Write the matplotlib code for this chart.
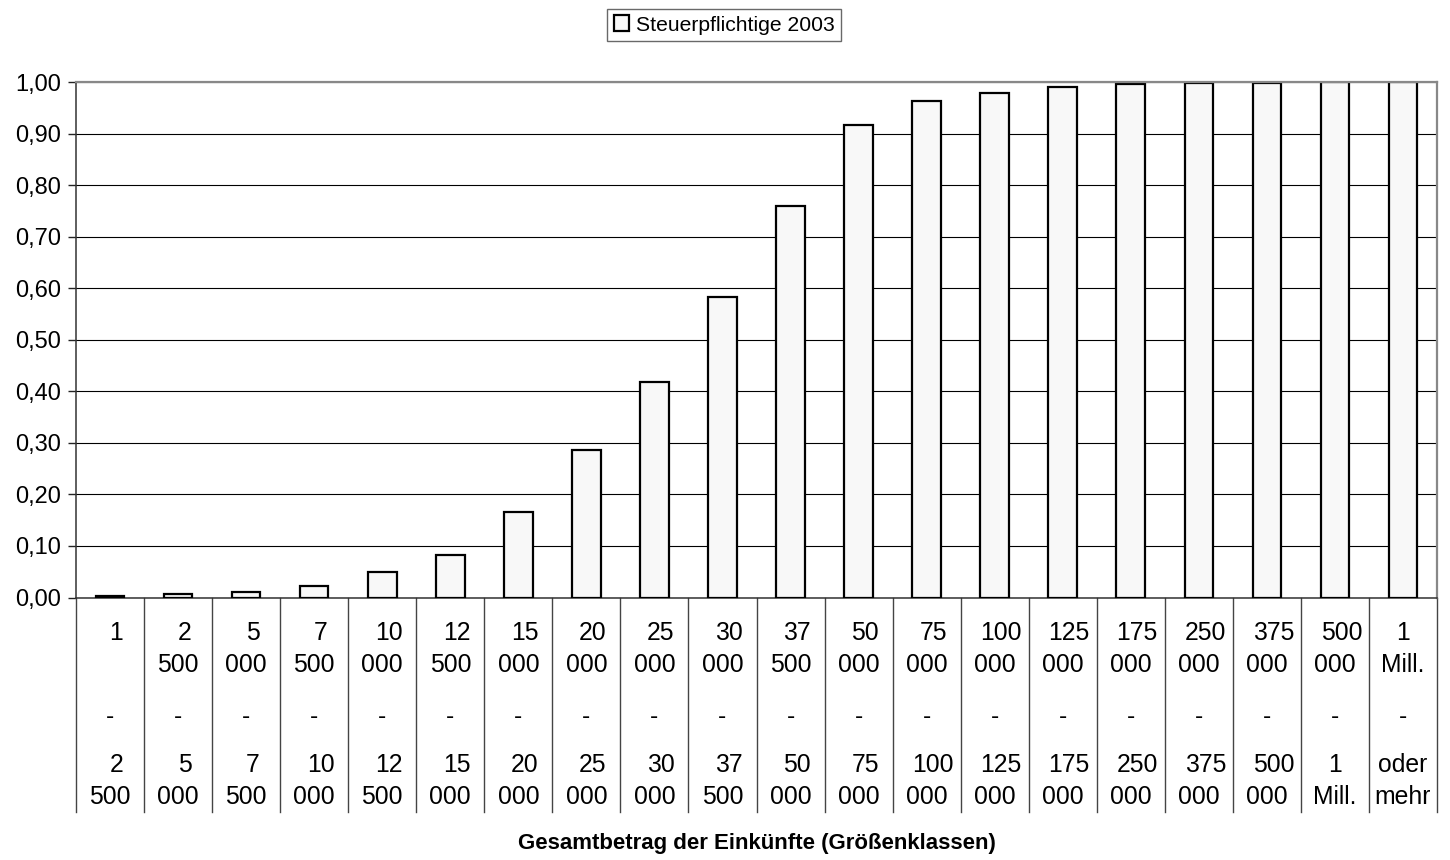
import numpy as np
import matplotlib
matplotlib.use("Agg")
import matplotlib.pyplot as plt
from matplotlib.patches import Patch
from matplotlib.ticker import FuncFormatter

plt.rcParams['font.family'] = ['Liberation Sans', 'DejaVu Sans']

# income classes (lower / upper bound) and cumulative share of taxpayers
lower = ["1", "2 500", "5 000", "7 500", "10 000", "12 500", "15 000", "20 000",
         "25 000", "30 000", "37 500", "50 000", "75 000", "100 000", "125 000",
         "175 000", "250 000", "375 000", "500 000", "1 Mill."]
upper = ["2 500", "5 000", "7 500", "10 000", "12 500", "15 000", "20 000", "25 000",
         "30 000", "37 500", "50 000", "75 000", "100 000", "125 000", "175 000",
         "250 000", "375 000", "500 000", "1 Mill.", "oder mehr"]
steuerpflichtige = [0.002, 0.006, 0.010, 0.022, 0.049, 0.083, 0.166, 0.287,
                    0.418, 0.583, 0.759, 0.916, 0.963, 0.979, 0.990, 0.996,
                    0.998, 0.999, 1.000, 1.000]
yticks = [0.0, 0.1, 0.2, 0.3, 0.4, 0.5, 0.6, 0.7, 0.8, 0.9, 1.0]

W, H = 1450, 860
fig = plt.figure(figsize=(W / 100, H / 100), dpi=100)
ax_l, ax_r, ax_t, ax_b = 76, 1437, 82, 597.5
ax = fig.add_axes([ax_l / W, 1 - ax_b / H, (ax_r - ax_l) / W, (ax_b - ax_t) / H])

x = np.arange(len(steuerpflichtige))
bars = ax.bar(x, steuerpflichtige, width=0.42, color='#f8f8f8',
              edgecolor='black', linewidth=1.6, zorder=3)

ax.set_xlim(-0.5, len(x) - 0.5)
ax.set_ylim(0, 1)
ax.set_yticks(yticks)
ax.yaxis.set_major_formatter(FuncFormatter(lambda v, p: f"{v:.2f}".replace('.', ',')))
ax.tick_params(axis='y', length=6, width=1, direction='out', labelsize=17, pad=5,
               color='#222222')
ax.set_xticks([])
ax.yaxis.grid(True, color='black', linewidth=0.8, zorder=0)

for side in ('top', 'right'):
    ax.spines[side].set_color('#888888')
    ax.spines[side].set_linewidth(1.6)
for side in ('left', 'bottom'):
    ax.spines[side].set_color('#333333')
    ax.spines[side].set_linewidth(1.1)
ax.spines['top'].set_zorder(4)

# category table below the axis
axh = ax_b - ax_t
def ay(py):
    return (ax_b - py) / axh

trans = ax.get_xaxis_transform()
cut = ay(812)
for b in np.arange(len(x) + 1) - 0.5:
    ax.plot([b, b], [0, cut], color='#444444', linewidth=1.0, transform=trans,
            clip_on=False)

fs = 17.8
shift = 0.095  # first part of a number sits a little right of centre
def put_number(xc, label, y1, y2):
    parts = label.split(' ', 1)
    first = parts[0]
    second = parts[1] if len(parts) > 1 else ''
    off = shift if (first.isdigit() and second != 'Mill.') else 0
    ax.text(xc + off, ay(y1), first, transform=trans, ha='center', va='center',
            fontsize=fs, clip_on=False)
    if second:
        ax.text(xc, ay(y2), second, transform=trans, ha='center', va='center',
                fontsize=fs, clip_on=False)

for i in x:
    put_number(i, lower[i], 633, 665)
    ax.text(i, ay(717), '-', transform=trans, ha='center', va='center',
            fontsize=fs, clip_on=False)
    put_number(i, upper[i], 765, 797)

fig.text(757 / W, 1 - 843 / H, 'Gesamtbetrag der Einkünfte (Größenklassen)',
         ha='center', va='center', fontsize=16, fontweight='bold')

handle = Patch(facecolor='#f8f8f8', edgecolor='black', linewidth=1.6)
leg = fig.legend([handle], ['Steuerpflichtige 2003'], loc='center',
                 bbox_to_anchor=(724 / W, 1 - 25 / H), fontsize=15.2,
                 frameon=True, fancybox=False, edgecolor='#444444',
                 handlelength=0.75, handleheight=0.75, handletextpad=0.3,
                 borderpad=0.3, borderaxespad=0)
leg.get_frame().set_linewidth(1.0)

fig.savefig('out.png', dpi=100, facecolor='white')
